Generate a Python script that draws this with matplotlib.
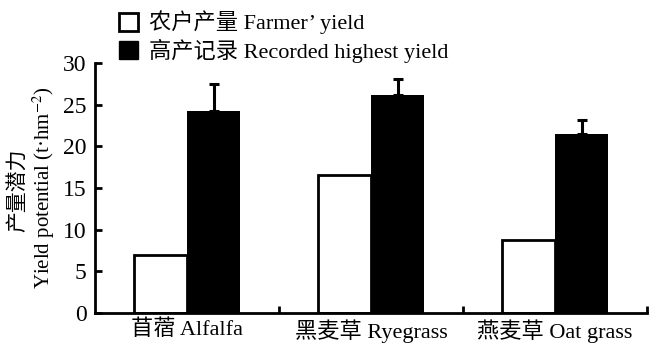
import matplotlib.pyplot as plt
from matplotlib.patches import Patch

plt.rcParams['font.family'] = ['Liberation Serif', 'Noto Sans CJK SC']
plt.rcParams['mathtext.fontset'] = 'stix'

# data
crops = ['苜蓿 Alfalfa', '黑麦草 Ryegrass', '燕麦草 Oat grass']
farmer_yield = [7.0, 16.6, 8.8]
highest_yield = [24.3, 26.2, 21.5]
highest_err = [3.2, 1.9, 1.7]

fig = plt.figure(figsize=(6.54, 3.52), dpi=100)
ax = fig.add_axes([0.1453, 0.1116, 0.8440, 0.7084])

x = range(len(crops))
w = 0.29
ax.bar([i - w / 2 for i in x], farmer_yield, w, color='white',
       edgecolor='black', linewidth=2)
ax.bar([i + w / 2 for i in x], highest_yield, w, color='black',
       edgecolor='black', linewidth=0)
ax.errorbar([i + w / 2 for i in x], highest_yield,
            yerr=[[0] * len(crops), highest_err], fmt='none',
            ecolor='black', elinewidth=2.2, capsize=3.3, capthick=2.2)

ax.set_xlim(-0.5, 2.5)
ax.set_ylim(0, 30)
ax.set_yticks(range(0, 31, 5))
ax.set_xticks(list(x))
ax.set_xticklabels(crops)
ax.set_xticks([0.5, 1.5, 2.5], minor=True)
ax.tick_params(axis='x', which='major', length=0, pad=5, labelsize=16)
ax.tick_params(axis='x', which='minor', direction='in', length=5, width=2)
ax.tick_params(axis='y', direction='in', length=5, width=2, pad=6,
               labelsize=17)

for s in ['top', 'right']:
    ax.spines[s].set_visible(False)
for s in ['left', 'bottom']:
    ax.spines[s].set_linewidth(2)

fig.text(0.027, 0.46, '产量潜力', rotation=90, ha='center', va='center',
         fontsize=15)
fig.text(0.067, 0.466, 'Yield potential (t·hm$^{-2}$)', rotation=90,
         ha='center', va='center', fontsize=15)

handles = [Patch(facecolor='white', edgecolor='black', linewidth=2),
           Patch(facecolor='black', edgecolor='black')]
labels = ['农户产量 Farmer’ yield', '高产记录 Recorded highest yield']
fig.legend(handles, labels, loc='upper left', bbox_to_anchor=(0.168, 0.995),
           frameon=False, fontsize=16, handlelength=0.85, handleheight=0.85,
           handletextpad=0.5, labelspacing=0.2, borderaxespad=0)

fig.savefig('out.png', dpi=100)
